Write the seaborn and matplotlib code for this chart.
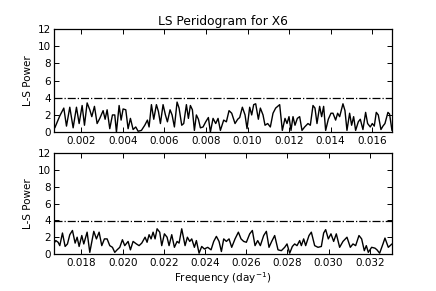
import numpy as np
import pandas as pd
import matplotlib
matplotlib.use("Agg")
import matplotlib.pyplot as plt
import seaborn as sns

# Frequencies in units of 1e-3 day^-1, powers in L-S units
freq_top = [0.716, 0.957, 1.149, 1.278, 1.438, 1.599, 1.759, 1.888, 2.032, 2.145,
            2.273, 2.401, 2.498, 2.626, 2.754, 2.883, 3.043, 3.140, 3.236, 3.364,
            3.493, 3.605, 3.685, 3.814, 3.910, 4.006, 4.135, 4.247, 4.359, 4.488,
            4.616, 4.729, 4.889, 5.050, 5.178, 5.258, 5.371, 5.483, 5.611, 5.708,
            5.804, 5.932, 6.045, 6.141, 6.269, 6.366, 6.478, 6.606, 6.703, 6.831,
            6.927, 7.056, 7.152, 7.248, 7.345, 7.441, 7.537, 7.634, 7.730, 7.858,
            7.987, 8.115, 8.211, 8.340, 8.468, 8.581, 8.693, 8.853, 8.982, 9.110,
            9.239, 9.399, 9.528, 9.624, 9.752, 9.881, 9.977, 10.105, 10.202, 10.298,
            10.394, 10.523, 10.619, 10.747, 10.844, 10.972, 11.100, 11.229, 11.357, 11.550,
            11.678, 11.807, 11.903, 11.999, 12.096, 12.192, 12.288, 12.401, 12.513, 12.625,
            12.754, 12.914, 13.027, 13.155, 13.251, 13.348, 13.476, 13.572, 13.668, 13.765,
            13.893, 14.022, 14.118, 14.246, 14.343, 14.439, 14.599, 14.696, 14.792, 14.920,
            15.017, 15.113, 15.209, 15.338, 15.434, 15.562, 15.691, 15.787, 15.915, 16.012,
            16.108, 16.204, 16.301, 16.429, 16.525, 16.622, 16.766, 16.846, 16.959]
power_top = [0.5, 1.9, 2.8, 0.7, 2.9, 0.5, 2.9, 1.0, 3.1, 0.8,
             3.4, 2.6, 1.8, 3.0, 1.0, 1.6, 2.5, 1.5, 2.6, 0.4,
             2.0, 2.0, 0.0, 3.1, 1.4, 2.7, 2.6, 0.4, 1.6, 0.3,
             0.6, 0.1, 0.2, 0.8, 1.4, 0.6, 3.2, 1.5, 3.2, 2.4,
             1.0, 3.2, 2.0, 1.2, 2.6, 2.0, 0.6, 3.5, 2.8, 0.8,
             1.0, 3.2, 1.6, 3.1, 2.6, 0.2, 2.0, 1.5, 0.5, 0.6,
             1.2, 1.7, 0.0, 1.6, 1.0, 1.6, 0.2, 1.4, 1.2, 2.5,
             2.2, 1.0, 1.5, 1.7, 2.9, 2.0, 0.4, 2.9, 2.0, 3.2,
             3.3, 1.5, 2.8, 2.0, 0.8, 1.0, 0.6, 2.2, 2.8, 3.2,
             0.2, 1.6, 1.0, 1.8, 0.2, 1.8, 0.8, 1.6, 1.8, 0.2,
             0.6, 1.0, 0.8, 3.1, 2.8, 1.0, 3.0, 1.8, 3.0, 0.2,
             1.5, 2.2, 2.2, 1.4, 2.2, 1.8, 3.3, 2.5, 0.2, 2.2,
             0.8, 1.8, 0.2, 1.2, 1.5, 0.3, 2.3, 1.0, 0.6, 1.0,
             0.7, 2.3, 2.0, 0.3, 0.7, 1.0, 2.3, 2.1, 0.2]

freq_bot = [16.673, 16.754, 16.867, 16.948, 17.078, 17.207, 17.320, 17.434, 17.563, 17.693,
            17.790, 17.887, 18.016, 18.113, 18.275, 18.405, 18.599, 18.728, 18.858, 18.987,
            19.116, 19.246, 19.375, 19.505, 19.618, 19.731, 19.861, 19.990, 20.103, 20.265,
            20.378, 20.508, 20.670, 20.799, 20.929, 21.090, 21.187, 21.285, 21.382, 21.479,
            21.576, 21.673, 21.802, 21.899, 22.029, 22.158, 22.255, 22.385, 22.514, 22.644,
            22.741, 22.870, 23.032, 23.145, 23.259, 23.356, 23.485, 23.582, 23.712, 23.841,
            23.970, 24.132, 24.294, 24.423, 24.553, 24.682, 24.796, 24.909, 25.038, 25.168,
            25.297, 25.459, 25.621, 25.750, 25.879, 26.009, 26.171, 26.300, 26.430, 26.559,
            26.688, 26.850, 26.980, 27.109, 27.239, 27.384, 27.546, 27.708, 27.870, 27.983,
            28.112, 28.242, 28.355, 28.468, 28.598, 28.679, 28.792, 28.889, 29.051, 29.164,
            29.326, 29.488, 29.650, 29.763, 29.860, 29.989, 30.118, 30.248, 30.377, 30.539,
            30.701, 30.895, 31.057, 31.187, 31.316, 31.478, 31.607, 31.737, 31.834, 31.931,
            32.093, 32.255, 32.352, 32.481, 32.643, 32.740, 32.902, 33.080]
power_bot = [1.3, 1.6, 1.4, 1.0, 2.5, 0.9, 1.2, 2.3, 2.8, 1.3,
             2.0, 0.9, 2.2, 1.2, 2.6, 0.2, 2.7, 1.8, 2.6, 1.0,
             1.8, 1.8, 1.0, 0.8, 0.2, 0.5, 0.8, 1.7, 1.0, 1.5,
             0.5, 1.5, 1.2, 1.0, 1.3, 2.0, 1.4, 2.3, 1.8, 2.6,
             1.8, 3.0, 2.6, 1.0, 2.4, 2.0, 1.0, 2.3, 0.8, 1.5,
             1.3, 3.0, 1.0, 2.0, 1.5, 1.8, 0.8, 1.6, 0.1, 0.9,
             0.6, 0.8, 0.5, 1.5, 2.1, 1.5, 0.3, 1.8, 1.5, 1.8,
             0.8, 1.8, 2.6, 1.8, 1.5, 1.4, 2.4, 2.8, 1.0, 1.6,
             1.0, 2.2, 2.7, 0.8, 1.5, 2.2, 0.5, 0.4, 0.8, 1.2,
             0.1, 0.9, 1.2, 1.0, 1.6, 1.0, 1.8, 1.0, 2.2, 2.6,
             1.0, 0.8, 0.9, 2.5, 2.9, 1.8, 2.4, 1.5, 2.4, 0.8,
             1.5, 2.0, 0.8, 1.2, 1.0, 2.2, 1.8, 0.4, 1.0, 0.2,
             0.8, 0.7, 0.5, 0.1, 1.2, 1.9, 0.8, 1.2]

threshold = 3.93
xlim_top = (0.00068, 0.01696)
xlim_bot = (0.01667, 0.03308)
ticks_top = [0.002, 0.004, 0.006, 0.008, 0.010, 0.012, 0.014, 0.016]
ticks_bot = [0.018, 0.020, 0.022, 0.024, 0.026, 0.028, 0.030, 0.032]
yticks = [0, 2, 4, 6, 8, 10, 12]

sns.set_theme(style="white")
plt.rcParams.update({
    "font.family": ["DejaVu Sans"],
    "text.color": "black", "axes.labelcolor": "black",
    "xtick.direction": "in", "ytick.direction": "in",
    "xtick.top": True, "ytick.right": True,
    "xtick.bottom": True, "ytick.left": True,
    "xtick.major.size": 3.5, "ytick.major.size": 3.5,
    "xtick.major.width": 0.7, "ytick.major.width": 0.7,
    "xtick.color": "black", "ytick.color": "black",
    "axes.edgecolor": "black", "axes.linewidth": 0.9,
    "xtick.labelsize": 7.5, "ytick.labelsize": 7.5,
})

fig = plt.figure(figsize=(4.36, 2.91), dpi=100)
ax1 = fig.add_axes([0.124, 0.546, 0.775, 0.354])
ax2 = fig.add_axes([0.124, 0.127, 0.775, 0.347])

df_top = pd.DataFrame({"freq": np.array(freq_top) * 1e-3, "power": power_top})
df_bot = pd.DataFrame({"freq": np.array(freq_bot) * 1e-3, "power": power_bot})

for ax, df, xl, tk in [(ax1, df_top, xlim_top, ticks_top), (ax2, df_bot, xlim_bot, ticks_bot)]:
    sns.lineplot(data=df, x="freq", y="power", ax=ax, color="black", lw=1.0,
                 estimator=None, sort=False)
    ax.axhline(threshold, color="black", ls="-.", lw=0.9)
    ax.set_xlim(*xl)
    ax.set_ylim(0, 12)
    ax.set_xticks(tk)
    ax.set_xticklabels([f"{t:.3f}" for t in tk])
    ax.set_yticks(yticks)
    ax.set_ylabel("L-S Power", fontsize=7.5, labelpad=3, color="black")
    ax.set_xlabel("")
    ax.tick_params(axis="both", which="both", pad=2.5,
                   top=True, right=True, direction="in")

ax1.set_title("LS Peridogram for X6", fontsize=8.8, pad=3, color="black")
ax2.set_xlabel("Frequency (day$^{-1}$)", fontsize=7.5, labelpad=2, color="black")

fig.savefig("out.png", dpi=100)
